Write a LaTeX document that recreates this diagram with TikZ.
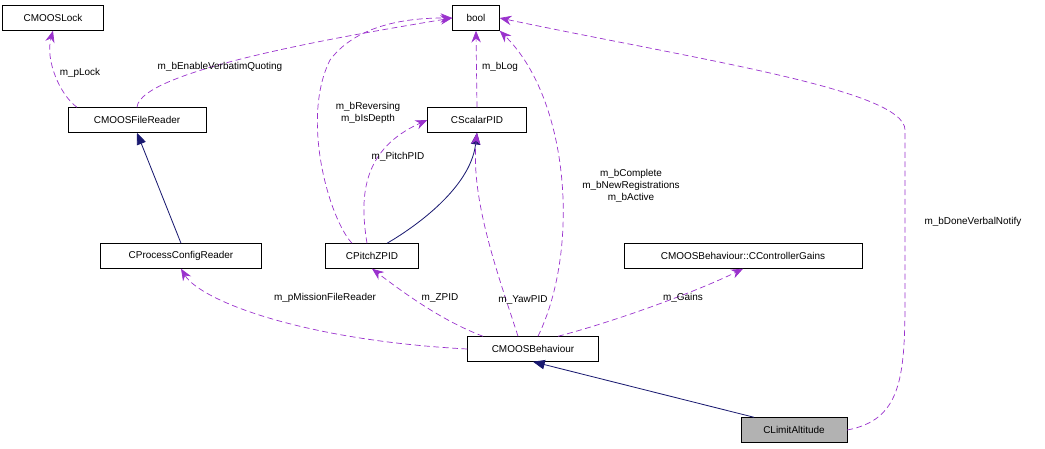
\documentclass[tikz,border=0pt]{standalone}
\usepackage{fontspec}
\setmainfont{Liberation Sans}
\usetikzlibrary{arrows.meta,calc}
\definecolor{pur}{HTML}{9A32CD}
\definecolor{nav}{HTML}{191970}
\begin{document}
\begin{tikzpicture}[x=0.03cm,y=-0.03cm,
 box/.style={draw,fill=white,inner sep=0pt,minimum height=25*0.03cm,font=\fontsize{8.5}{10}\selectfont},
 use/.style={draw=pur,dash pattern=on 5pt off 3pt,-{Stealth[length=10pt,width=8pt]},line width=0.6pt},
 inh/.style={draw=nav,-{Triangle[length=10pt,width=8pt]},line width=0.7pt},
 lab/.style={font=\fontsize{8.5}{10}\selectfont,inner sep=1pt,align=center}]
\useasboundingbox (0,0) rectangle (1045,448);
\node[box,minimum width=101*0.03cm] (lock) at (53,18) {CMOOSLock};
\node[box,minimum width=47*0.03cm] (bool) at (476,18) {bool};
\node[box,minimum width=138*0.03cm] (fr) at (137,120) {CMOOSFileReader};
\node[box,minimum width=99*0.03cm] (spid) at (477,120) {CScalarPID};
\node[box,minimum width=161*0.03cm] (pcr) at (181,256) {CProcessConfigReader};
\node[box,minimum width=93*0.03cm] (pz) at (372,256) {CPitchZPID};
\node[box,minimum width=238*0.03cm] (cg) at (743,256) {CMOOSBehaviour::CControllerGains};
\node[box,minimum width=131*0.03cm] (beh) at (533,349) {CMOOSBehaviour};
\node[box,minimum width=106*0.03cm,fill=gray!60] (la) at (794,430) {CLimitAltitude};

\draw[use] ($(fr.north)+(-60,0)$) .. controls (60,95) and (45,60) .. (lock.south);
\node[lab] at (80,73) {m\_pLock};
\draw[use] (fr.north) .. controls (140,70) and (350,35) .. (bool.west);
\node[lab] at (220,67) {m\_bEnableVerbatimQuoting};
\draw[inh] (pcr.north) -- (fr.south);
\draw[inh] ($(pz.north)+(15,0)$) .. controls (410,230) and (470,190) .. (spid.south);
\draw[use] ($(pz.north)+(-20,0)$) .. controls (330,220) and (300,120) .. (330,60) .. controls (360,20) and (420,18) .. (bool.west);
\node[lab] at (368,113) {m\_bReversing\\m\_bIsDepth};
\draw[use] ($(pz.north)+(-5,0)$) .. controls (360,200) and (360,150) .. (spid.west);
\node[lab] at (398,157) {m\_PitchPID};
\draw[use] (spid.north) -- (bool.south);
\node[lab] at (500,67) {m\_bLog};
\draw[use] ($(beh.north)+(-15,0)$) .. controls (500,280) and (470,200) .. (spid.south);
\node[lab] at (523,300) {m\_YawPID};
\draw[use] ($(beh.north)+(5,0)$) .. controls (580,250) and (570,100) .. (bool.south east);
\node[lab] at (631,186) {m\_bComplete\\m\_bNewRegistrations\\m\_bActive};
\draw[use] (beh.west) .. controls (300,340) and (200,300) .. (pcr.south);
\node[lab] at (325,298) {m\_pMissionFileReader};
\draw[use] ($(beh.north)+(-50,0)$) .. controls (440,320) and (400,290) .. (pz.south);
\node[lab] at (440,298) {m\_ZPID};
\draw[use] ($(beh.north)+(25,0)$) .. controls (620,320) and (700,290) .. (cg.south);
\node[lab] at (683,298) {m\_Gains};
\draw[inh] ($(la.north)+(-40,0)$) -- (beh.south);
\draw[use] (la.east) .. controls (900,420) and (905,380) .. (905,300) -- (905,130) .. controls (905,90) and (700,60) .. (bool.east);
\node[lab] at (973,222) {m\_bDoneVerbalNotify};
\end{tikzpicture}
\end{document}
